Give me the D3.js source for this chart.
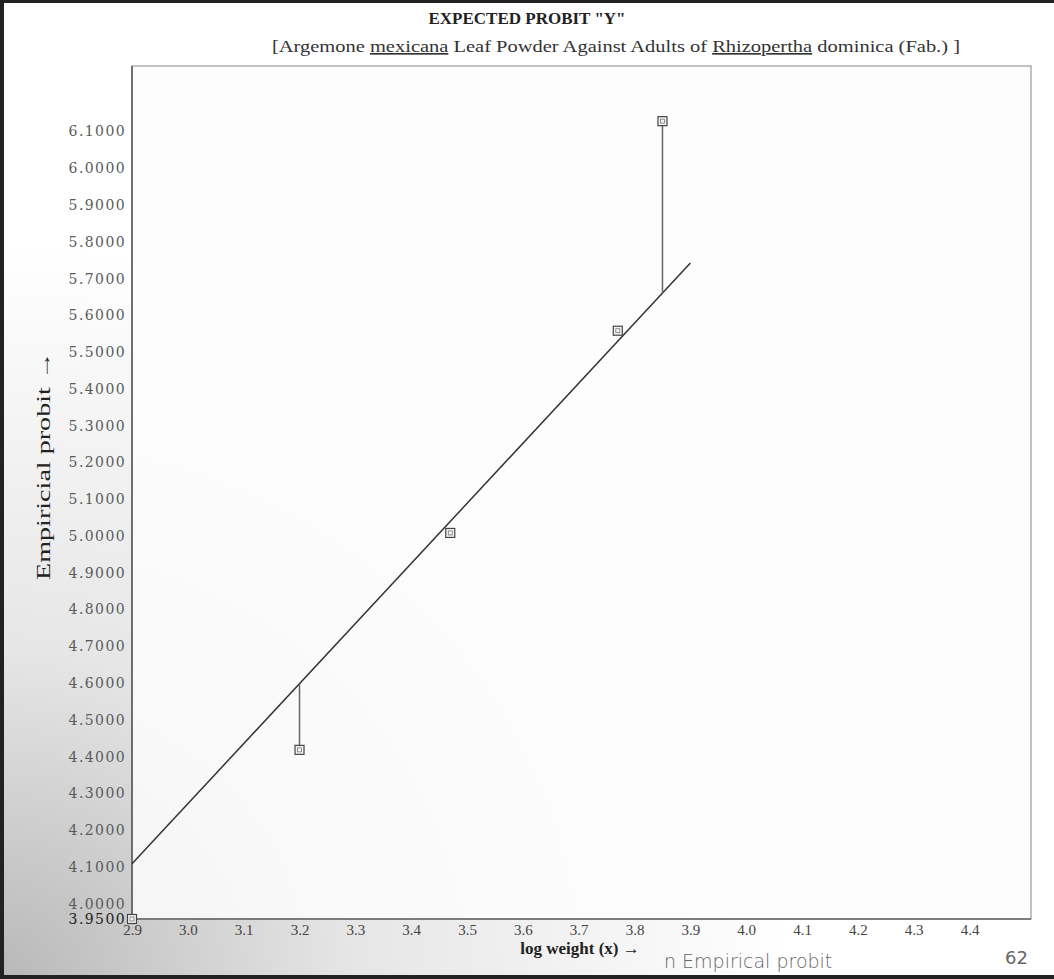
<!DOCTYPE html>
<html>
<head>
<meta charset="utf-8">
<script src="https://cdn.jsdelivr.net/npm/d3@7"></script>
<style>
  html, body { margin: 0; padding: 0; background: #fff; }
  svg { display: block; }
</style>
</head>
<body>
<svg id="chart" width="1054" height="979"></svg>
<script>
// ---- data ----
const logWeight = [3.2, 3.47, 3.77, 3.85];
const empiricalProbit = [4.41, 5.00, 5.55, 6.12];
const fitX = [2.9, 3.9];
const fitY = [4.10, 5.734];
const residualIdx = [0, 3];          // points with drop lines to the fitted line
const originMarker = [[2.9, 3.95]];
const yTicks = [4.0, 4.1, 4.2, 4.3, 4.4, 4.5, 4.6, 4.7, 4.8, 4.9, 5.0, 5.1, 5.2, 5.3, 5.4, 5.5, 5.6, 5.7, 5.8, 5.9, 6.0, 6.1];
const yMinLabel = 3.95;
const xTicks = [2.9, 3.0, 3.1, 3.2, 3.3, 3.4, 3.5, 3.6, 3.7, 3.8, 3.9, 4.0, 4.1, 4.2, 4.3, 4.4];
const titleText = 'EXPECTED PROBIT "Y"';
const xTitle = "log weight (x) \u2192";
const yTitle = "Empiricial probit \u2192";

(function () {
const svg = d3.select("#chart");
const W = 1054, H = 979;
const pL = 132, pR = 1031, pT = 66, pB = 919;

// background shading (photo of a printout)
const defs = svg.append("defs");
const rg = defs.append("radialGradient").attr("id", "shade")
  .attr("cx", 0).attr("cy", 1).attr("r", 0.75).attr("gradientUnits", "objectBoundingBox");
rg.append("stop").attr("offset", "0%").attr("stop-color", "#b8b8b8");
rg.append("stop").attr("offset", "45%").attr("stop-color", "#e6e6e6");
rg.append("stop").attr("offset", "100%").attr("stop-color", "#ffffff");
svg.append("rect").attr("width", W).attr("height", H).attr("fill", "url(#shade)");
svg.append("rect").attr("x", pL).attr("y", pT).attr("width", pR - pL).attr("height", pB - pT)
  .attr("fill", "#fdfdfd").attr("opacity", 0.85);

// frame of the scan
svg.append("line").attr("x1", 0).attr("x2", W).attr("y1", 1.5).attr("y2", 1.5).attr("stroke", "#222").attr("stroke-width", 3);
svg.append("line").attr("x1", 2).attr("x2", 2).attr("y1", 0).attr("y2", H).attr("stroke", "#222").attr("stroke-width", 4);
svg.append("line").attr("x1", 0).attr("x2", W).attr("y1", 977).attr("y2", 977).attr("stroke", "#222").attr("stroke-width", 4);

const x = d3.scaleLinear().domain([2.9, 4.51]).range([pL, pR]);
const y = d3.scaleLinear().domain([3.95, 6.27]).range([pB, pT]);

// plot box
svg.append("rect").attr("x", pL).attr("y", pT).attr("width", pR - pL).attr("height", pB - pT)
  .attr("fill", "none").attr("stroke", "#9a9a9a").attr("stroke-width", 1.2);
svg.append("line").attr("x1", pL).attr("x2", pL).attr("y1", pT).attr("y2", pB)
  .attr("stroke", "#555").attr("stroke-width", 1.5);
svg.append("line").attr("x1", pL).attr("x2", pR).attr("y1", pB).attr("y2", pB)
  .attr("stroke", "#666").attr("stroke-width", 1.5);

// y axis labels
const yAxis = d3.axisLeft(y).tickValues(yTicks.concat([yMinLabel])).tickFormat(d3.format(".4f")).tickSize(0).tickPadding(6);
const gy = svg.append("g").attr("transform", `translate(${pL},3)`).call(yAxis);
gy.select(".domain").remove();
gy.selectAll("text").attr("font-family", "'DejaVu Serif', serif").attr("font-size", 14)
  .attr("letter-spacing", 1.4).attr("fill", "#5a5a5a");
gy.selectAll("text").filter(d => d === yMinLabel).attr("fill", "#222").attr("dy", "0.1em");

// x axis labels
const xAxis = d3.axisBottom(x).tickValues(xTicks).tickFormat(d3.format(".1f")).tickSize(0).tickPadding(5);
const gx = svg.append("g").attr("transform", `translate(0,${pB})`).call(xAxis);
gx.select(".domain").remove();
gx.selectAll("text").attr("font-family", "'Liberation Serif', serif").attr("font-size", 15).attr("fill", "#444");

// fitted line
svg.append("line")
  .attr("x1", x(fitX[0])).attr("y1", y(fitY[0]))
  .attr("x2", x(fitX[1])).attr("y2", y(fitY[1]))
  .attr("stroke", "#333").attr("stroke-width", 1.5);

const slope = (fitY[1] - fitY[0]) / (fitX[1] - fitX[0]);
const fitAt = v => fitY[0] + slope * (v - fitX[0]);

// residual drop lines
svg.selectAll(".resid").data(residualIdx).enter().append("line")
  .attr("x1", i => x(logWeight[i])).attr("x2", i => x(logWeight[i]))
  .attr("y1", i => y(empiricalProbit[i])).attr("y2", i => y(fitAt(logWeight[i])))
  .attr("stroke", "#666").attr("stroke-width", 1.5);

// markers
const pts = logWeight.map((v, i) => [v, empiricalProbit[i]]).concat(originMarker);
const mk = svg.selectAll(".mk").data(pts).enter().append("g")
  .attr("transform", d => `translate(${x(d[0])},${y(d[1])})`);
mk.append("rect").attr("x", -4.5).attr("y", -4.5).attr("width", 9).attr("height", 9)
  .attr("fill", "#f4f4f4").attr("stroke", "#444").attr("stroke-width", 1.2);
mk.append("rect").attr("x", -2).attr("y", -2).attr("width", 4).attr("height", 4)
  .attr("fill", "none").attr("stroke", "#777").attr("stroke-width", 0.8);

// titles
svg.append("text").attr("x", 527).attr("y", 24).attr("text-anchor", "middle")
  .attr("font-family", "'Liberation Serif', serif").attr("font-weight", "bold").attr("font-size", 17)
  .attr("fill", "#222").text(titleText);

const sub = svg.append("text").attr("x", 616).attr("y", 52).attr("text-anchor", "middle")
  .attr("font-family", "'Liberation Serif', serif").attr("font-size", 16.5).attr("fill", "#333")
  .attr("textLength", 688).attr("lengthAdjust", "spacingAndGlyphs");
sub.append("tspan").text("[Argemone ");
sub.append("tspan").attr("text-decoration", "underline").text("mexicana");
sub.append("tspan").text(" Leaf Powder Against Adults of ");
sub.append("tspan").attr("text-decoration", "underline").text("Rhizopertha");
sub.append("tspan").text(" dominica (Fab.) ]");

// axis titles
svg.append("text").attr("x", 580).attr("y", 954).attr("text-anchor", "middle")
  .attr("font-family", "'Liberation Serif', serif").attr("font-weight", "bold").attr("font-size", 17)
  .attr("fill", "#222").text(xTitle);

svg.append("text")
  .attr("transform", "translate(50,466) rotate(-90)")
  .attr("text-anchor", "middle")
  .attr("font-family", "'Liberation Serif', serif").attr("font-size", 18)
  .attr("textLength", 228).attr("lengthAdjust", "spacingAndGlyphs")
  .attr("fill", "#222").text(yTitle);

// handwritten notes
svg.append("text").attr("x", 664).attr("y", 968)
  .attr("font-family", "'DejaVu Sans', sans-serif").attr("font-weight", 200).attr("font-size", 19)
  .attr("fill", "#666").text("n Empirical probit");
svg.append("text").attr("x", 1005).attr("y", 964)
  .attr("font-family", "'DejaVu Sans', sans-serif").attr("font-size", 18)
  .attr("fill", "#666").text("62");
})();
</script>
</body>
</html>
